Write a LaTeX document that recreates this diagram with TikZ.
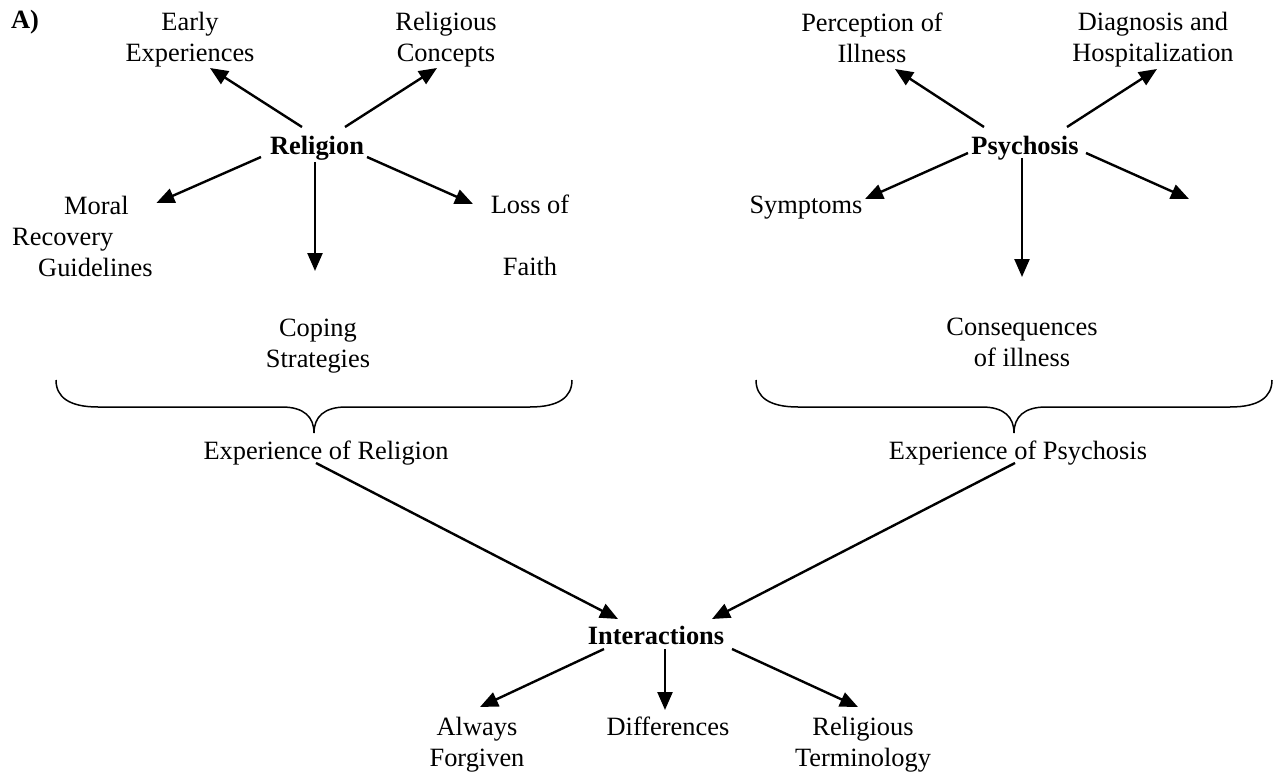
\documentclass[tikz,border=0pt]{standalone}
\usepackage{fontspec}
\setmainfont{Liberation Serif}
\usetikzlibrary{arrows.meta}
\begin{document}
\begin{tikzpicture}[x=1pt,y=-1pt,
  txt/.style={font=\fontsize{26.4}{31}\selectfont, inner sep=0pt, align=center},
  boldtxt/.style={txt, font=\fontsize{26.4}{31}\selectfont\bfseries},
  arr/.style={line width=2.4pt, -{Triangle[length=18pt,width=15pt]}},
  bracestyle/.style={line width=1.5pt},
  mybrace/.pic={\draw[bracestyle] (-258,-53) .. controls (-258,-36) and (-245,-26) .. (-216,-26) -- (-32,-26) .. controls (-10,-26) and (0,-16) .. (0,0) .. controls (0,-16) and (10,-26) .. (32,-26) -- (216,-26) .. controls (245,-26) and (258,-36) .. (258,-53);}
]
\useasboundingbox (0,0) rectangle (1275,773);

% label
\node[boldtxt] (lab) at (25,22) {A)};

% Religion cluster
\node[txt] (early) at (190,39.5) {Early\\Experiences};
\node[txt] (concepts) at (446,39.5) {Religious\\Concepts};
\node[boldtxt] (rel) at (317,148) {Religion};
\node[txt, align=left, anchor=west] (moral) at (12,236) {\hspace*{52pt}Moral\\Recovery\\\hspace*{26pt}Guidelines};
\node[txt] (loss) at (530,235) {Loss of\\\mbox{}\\Faith};
\node[txt] (coping) at (318,346) {Coping\\Strategies};
\node[txt] (exprel) at (326,453) {Experience of Religion};

% Psychosis cluster
\node[txt] (percep) at (872,37.5) {Perception of\\Illness};
\node[txt] (diag) at (1153,39.5) {Diagnosis and\\Hospitalization};
\node[boldtxt] (psy) at (1025,148) {Psychosis};
\node[txt] (sympt) at (806,208) {Symptoms};
\node[txt] (cons) at (1022,342) {Consequences\\of illness};
\node[txt] (exppsy) at (1018,453) {Experience of Psychosis};
\coordinate (psyfree) at (1189,199);

% Interactions
\node[boldtxt] (inter) at (656,635) {Interactions};
\node[txt] (always) at (477,744.5) {Always\\Forgiven};
\node[txt] (diff) at (668,726) {Differences};
\node[txt] (term) at (863,745) {Religious\\Terminology};

% braces
\pic at (314,433) {mybrace};
\pic at (1014,433) {mybrace};

% arrows Religion
\draw[arr] ([shift={(-15,-21)}]rel.center) -- ([shift={(20,28.5)}]early.center);
\draw[arr] ([shift={(28,-21)}]rel.center) -- ([shift={(-9,28.5)}]concepts.center);
\draw[arr] ([shift={(-56,9)}]rel.center) -- ([shift={(74,-33)}]moral.center);
\draw[arr] ([shift={(50,9)}]rel.center) -- ([shift={(-57,-31)}]loss.center);
\draw[arr] ([shift={(-2,14)}]rel.center) -- ([shift={(-3,-75)}]coping.center);

% arrows Psychosis
\draw[arr] ([shift={(-41,-21)}]psy.center) -- ([shift={(23,31.5)}]percep.center);
\draw[arr] ([shift={(42,-21)}]psy.center) -- ([shift={(4,29.5)}]diag.center);
\draw[arr] ([shift={(-57,5)}]psy.center) -- ([shift={(59,-9)}]sympt.center);
\draw[arr] ([shift={(61,5)}]psy.center) -- (psyfree);
\draw[arr] ([shift={(-3,10)}]psy.center) -- ([shift={(0,-65)}]cons.center);

% arrows to/from Interactions
\draw[arr] ([shift={(-10,10)}]exprel.center) -- ([shift={(-38,-16)}]inter.center);
\draw[arr] ([shift={(-3,10)}]exppsy.center) -- ([shift={(56,-16)}]inter.center);
\draw[arr] ([shift={(-52,14)}]inter.center) -- ([shift={(3,-37.5)}]always.center);
\draw[arr] ([shift={(9,14)}]inter.center) -- ([shift={(-3,-16)}]diff.center);
\draw[arr] ([shift={(76,14)}]inter.center) -- ([shift={(-5,-38)}]term.center);
\end{tikzpicture}
\end{document}
